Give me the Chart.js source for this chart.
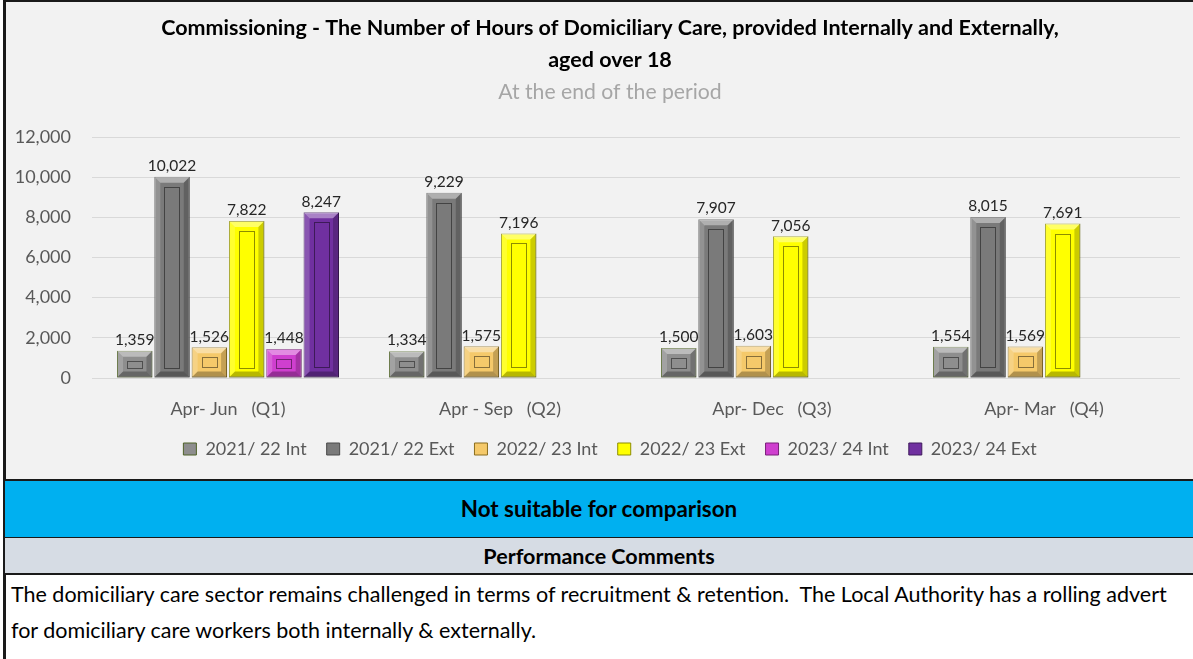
<!DOCTYPE html>
<html>
<head>
<meta charset="utf-8">
<script src="https://cdn.jsdelivr.net/npm/chart.js@4"></script>
<style>
  html, body { margin: 0; padding: 0; background: #ffffff; }
  body { width: 1193px; height: 659px; position: relative; overflow: hidden; font-family: Lato, "Open Sans", sans-serif; }
  #chart-box { position: absolute; left: 3px; top: 0; width: 1190px; height: 480px; background: #f2f2f2; border-left: 3px solid #1a1a1a; border-top: 2px solid #1a1a1a; box-sizing: border-box; overflow: hidden; }
  #chart-wrap { position: absolute; left: 0; top: 0; width: 1215px; height: 478px; }
  #band { position: absolute; left: 3px; top: 479px; width: 1190px; height: 60px; background: #00b0f0; border: 2px solid #1a1a1a; border-right: none; box-sizing: border-box; font-weight: bold; font-size: 22.4px; text-align: center; line-height: 56px; color: #000; }
  #perf { position: absolute; left: 3px; top: 538px; width: 1190px; height: 37px; background: #d6dce4; border: 2px solid #1a1a1a; border-right: none; border-top: none; box-sizing: border-box; font-weight: bold; font-size: 21.5px; text-align: center; line-height: 37px; color: #000; }
  #comment { position: absolute; left: 3px; top: 575px; width: 1190px; height: 84px; background: #ffffff; border-left: 3px solid #1a1a1a; box-sizing: border-box; font-size: 21.5px; line-height: 36px; padding: 1px 0 0 5px; color: #000; white-space: nowrap; }
</style>
</head>
<body>
<div id="chart-box"><div id="chart-wrap"><canvas id="care-chart"></canvas></div></div>
<div id="band">Not suitable for comparison</div>
<div id="perf">Performance Comments</div>
<div id="comment">The domiciliary care sector remains challenged in terms of recruitment &amp; retention.&nbsp; The Local Authority has a rolling advert<br>for domiciliary care workers both internally &amp; externally.</div>
<script>
const quarters = ['Apr- Jun   (Q1)', 'Apr - Sep   (Q2)', 'Apr- Dec   (Q3)', 'Apr- Mar   (Q4)'];
const seriesNames = ['2021/ 22 Int', '2021/ 22 Ext', '2022/ 23 Int', '2022/ 23 Ext', '2023/ 24 Int', '2023/ 24 Ext'];
const int2122 = [1359, 1334, 1500, 1554];
const ext2122 = [10022, 9229, 7907, 8015];
const int2223 = [1526, 1575, 1603, 1569];
const ext2223 = [7822, 7196, 7056, 7691];
const int2324 = [1448, null, null, null];
const ext2324 = [8247, null, null, null];
const yTicks = [0, 2000, 4000, 6000, 8000, 10000, 12000];

const fills = ['#8e8e8e', '#7a7a7a', '#f5c96a', '#ffff00', '#cf3fcf', '#7030a0'];
const edges = ['#4f6228', '#4a4a4a', '#8a6d1e', '#8c8c00', '#7a1f7a', '#3f1a5c'];

const FONT = 'Lato, "Open Sans", sans-serif';

// bar values on top of each bar
const valueLabels = {
  id: 'valueLabels',
  afterDatasetsDraw(chart) {
    const ctx = chart.ctx;
    ctx.save();
    ctx.font = '15.5px ' + FONT;
    ctx.fillStyle = '#262626';
    ctx.textAlign = 'center';
    ctx.textBaseline = 'bottom';
    chart.data.datasets.forEach((ds, i) => {
      chart.getDatasetMeta(i).data.forEach((bar, j) => {
        const v = ds.data[j];
        if (v === null || v === undefined) return;
        ctx.fillText(v.toLocaleString('en-GB'), bar.x, bar.y - 3);
      });
    });
    ctx.restore();
  }
};

// rough bevel look, like the office chart
const bevel = {
  id: 'bevel',
  afterDatasetsDraw(chart) {
    const ctx = chart.ctx;
    ctx.save();
    chart.data.datasets.forEach((ds, i) => {
      chart.getDatasetMeta(i).data.forEach((bar, j) => {
        if (ds.data[j] === null) return;
        const l = bar.x - bar.width / 2, r = bar.x + bar.width / 2;
        const t = bar.y, b = bar.base;
        const s = Math.min(6, (b - t) / 4);
        // top
        ctx.fillStyle = 'rgba(255,255,255,0.4)';
        ctx.beginPath();
        ctx.moveTo(l, t); ctx.lineTo(r, t); ctx.lineTo(r - s, t + s); ctx.lineTo(l + s, t + s); ctx.closePath(); ctx.fill();
        // left
        ctx.fillStyle = 'rgba(255,255,255,0.18)';
        ctx.beginPath();
        ctx.moveTo(l, t); ctx.lineTo(l + s, t + s); ctx.lineTo(l + s, b - s); ctx.lineTo(l, b); ctx.closePath(); ctx.fill();
        // right
        ctx.fillStyle = 'rgba(0,0,0,0.2)';
        ctx.beginPath();
        ctx.moveTo(r, t); ctx.lineTo(r - s, t + s); ctx.lineTo(r - s, b - s); ctx.lineTo(r, b); ctx.closePath(); ctx.fill();
        // bottom
        ctx.fillStyle = 'rgba(0,0,0,0.28)';
        ctx.beginPath();
        ctx.moveTo(l, b); ctx.lineTo(r, b); ctx.lineTo(r - s, b - s); ctx.lineTo(l + s, b - s); ctx.closePath(); ctx.fill();
        // inner rectangle
        const g = s + 4;
        if (b - t > 2 * g + 2) {
          ctx.strokeStyle = 'rgba(0,0,0,0.45)';
          ctx.lineWidth = 1;
          ctx.strokeRect(Math.round(l + g) + 0.5, Math.round(t + g) + 0.5, Math.round(r - l - 2 * g), Math.round(b - t - 2 * g));
        }
      });
    });
    ctx.restore();
  }
};

const allSeries = [int2122, ext2122, int2223, ext2223, int2324, ext2324];

const ctx = document.getElementById('care-chart').getContext('2d');
new Chart(ctx, {
  type: 'bar',
  data: {
    labels: quarters,
    datasets: allSeries.map((vals, i) => ({
      label: seriesNames[i],
      data: vals,
      backgroundColor: fills[i],
      borderColor: edges[i],
      borderWidth: 1,
      borderSkipped: false,
      barPercentage: 0.95,
      categoryPercentage: 0.823
    }))
  },
  options: {
    responsive: true,
    maintainAspectRatio: false,
    animation: false,
    layout: { padding: { top: 2, left: 6, right: 13, bottom: 12 } },
    plugins: {
      title: {
        display: true,
        text: ['Commissioning - The Number of Hours of Domiciliary Care, provided Internally and Externally,', 'aged over 18'],
        color: '#000000',
        font: { family: FONT, size: 21.5, weight: 'bold', lineHeight: '32px' },
        padding: { top: 8, bottom: 4 }
      },
      subtitle: {
        display: true,
        text: 'At the end of the period',
        color: '#a6a6a6',
        font: { family: FONT, size: 21.2, lineHeight: '25px' },
        padding: { top: 0, bottom: 32 }
      },
      legend: {
        position: 'bottom',
        labels: {
          color: '#595959',
          font: { family: FONT, size: 18 },
          boxWidth: 13,
          boxHeight: 12,
          padding: 20
        }
      },
      tooltip: { enabled: false }
    },
    scales: {
      x: {
        grid: { display: false, drawTicks: false },
        border: { display: false },
        afterFit(axis) { axis.height = 42; },
        ticks: { color: '#595959', font: { family: FONT, size: 18 }, padding: 20 }
      },
      y: {
        min: 0,
        max: 12000,
        afterBuildTicks(axis) { axis.ticks = yTicks.map(v => ({ value: v })); },
        afterFit(axis) { axis.width = 80; },
        grid: { color: '#d9d9d9', drawTicks: false },
        border: { display: false },
        ticks: {
          color: '#595959',
          font: { family: FONT, size: 18 },
          padding: 21,
          callback: v => v.toLocaleString('en-GB')
        }
      },
      // empty spacer on the right, the canvas runs past the visible box
      spacer: {
        position: 'right',
        afterFit(axis) { axis.width = 28; },
        grid: { display: false },
        border: { display: false },
        ticks: { display: false }
      }
    }
  },
  plugins: [bevel, valueLabels]
});
</script>
</body>
</html>
